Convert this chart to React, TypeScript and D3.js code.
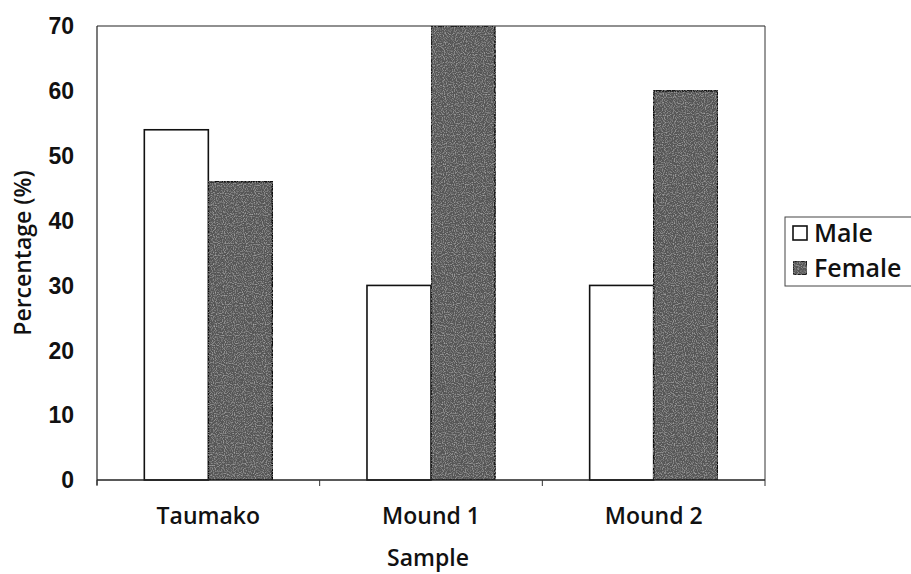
import React from "react";
import * as d3 from "d3";

const categories = ["Taumako", "Mound 1", "Mound 2"];
const seriesNames = ["Male", "Female"];
const maleValues = [54, 30, 30];
const femaleValues = [46, 70, 60];
const yTicks = [0, 10, 20, 30, 40, 50, 60, 70];

const W = 911;
const H = 574;
const plot = { left: 97, right: 765, top: 26, bottom: 480 };

export default function App() {
  const x = d3
    .scaleBand<string>()
    .domain(categories)
    .range([plot.left, plot.right])
    .paddingInner(0)
    .paddingOuter(0);
  const groupInner = 0.575; // share of band used by the bar pair
  const y = d3.scaleLinear().domain([0, 70]).range([plot.bottom, plot.top]);
  const bw = x.bandwidth();
  const barW = (bw * groupInner) / 2;

  const rows = categories.map((c, i) => ({
    c,
    values: [maleValues[i], femaleValues[i]],
  }));
  const fills = ["#ffffff", "#565656"];

  const tickFont = "Liberation Sans, Arial, sans-serif";
  const labelFont = "'Open Sans', Tahoma, sans-serif";

  return (
    <svg
      width={W}
      height={H}
      style={{ position: "absolute", left: 0, top: 0, background: "#fff" }}
    >
      <defs>
        <filter id="grain" x="0" y="0" width="1" height="1">
          <feTurbulence type="fractalNoise" baseFrequency="0.9" numOctaves="1" seed="3" result="n" />
          <feColorMatrix
            in="n"
            type="matrix"
            values="0 0 0 0 0.6  0 0 0 0 0.6  0 0 0 0 0.6  0 0 0 1.6 -0.75"
            result="spots"
          />
          <feComposite in="spots" in2="SourceGraphic" operator="in" result="clip" />
          <feMerge>
            <feMergeNode in="SourceGraphic" />
            <feMergeNode in="clip" />
          </feMerge>
        </filter>
      </defs>

      {/* plot area frame */}
      <line x1={plot.left} x2={plot.right} y1={plot.top} y2={plot.top} stroke="#222" strokeWidth={1.2} />
      <line x1={plot.right} x2={plot.right} y1={plot.top} y2={plot.bottom} stroke="#333" strokeWidth={1} />

      {/* bars */}
      {rows.map((r) =>
        r.values.map((v, j) => {
          const x0 = (x(r.c) as number) + (bw - 2 * barW) / 2 + j * barW;
          return (
            <rect
              key={r.c + j}
              x={x0}
              y={y(v)}
              width={barW}
              height={y(0) - y(v)}
              fill={fills[j]}
              stroke="#111"
              strokeWidth={1.6}
              filter={j === 1 ? "url(#grain)" : undefined}
            />
          );
        })
      )}

      {/* axes */}
      <line x1={plot.left} x2={plot.left} y1={plot.top} y2={plot.bottom + 5} stroke="#222" strokeWidth={1.2} />
      <line x1={plot.left} x2={plot.right} y1={plot.bottom} y2={plot.bottom} stroke="#222" strokeWidth={1.4} />
      {[...categories.map((c) => x(c) as number), plot.right].map((px, i) => (
        <line key={i} x1={px} x2={px} y1={plot.bottom} y2={plot.bottom + 6} stroke="#333" strokeWidth={1} />
      ))}

      {yTicks.map((t) => (
        <text
          key={t}
          x={74}
          y={y(t)}
          dy="0.36em"
          textAnchor="end"
          fontFamily={tickFont}
          fontWeight="bold"
          fontSize={23}
          fill="#111"
        >
          {t}
        </text>
      ))}

      {categories.map((c) => (
        <text
          key={c}
          x={(x(c) as number) + bw / 2}
          y={524}
          textAnchor="middle"
          fontFamily={labelFont}
          fontWeight={600}
          fontSize={23}
          fill="#111"
        >
          {c}
        </text>
      ))}

      <text
        x={428}
        y={566}
        textAnchor="middle"
        fontFamily={labelFont}
        fontWeight={600}
        fontSize={23}
        fill="#111"
      >
        Sample
      </text>

      <text
        transform={`translate(31, ${253}) rotate(-90)`}
        textAnchor="middle"
        fontFamily={labelFont}
        fontWeight={600}
        fontSize={23}
        fill="#111"
      >
        Percentage (%)
      </text>

      {/* legend */}
      <rect x={785} y={217} width={130} height={69} fill="#fff" stroke="#444" strokeWidth={1} />
      {seriesNames.map((s, j) => (
        <g key={s} transform={`translate(793, ${226 + j * 35})`}>
          <rect
            x={0}
            y={0}
            width={14}
            height={14}
            fill={fills[j]}
            stroke="#111"
            strokeWidth={1.6}
            filter={j === 1 ? "url(#grain)" : undefined}
          />
          <text
            x={21}
            y={16}
            fontFamily={labelFont}
            fontWeight={600}
            fontSize={25}
            fill="#111"
          >
            {s}
          </text>
        </g>
      ))}
    </svg>
  );
}
